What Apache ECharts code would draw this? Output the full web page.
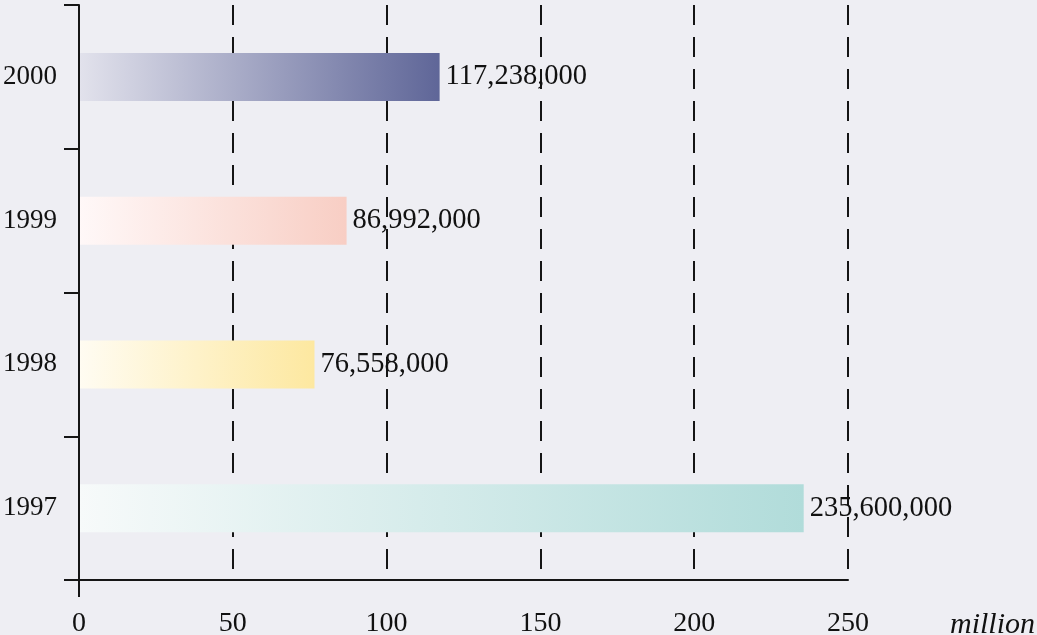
<!DOCTYPE html>
<html>
<head>
<meta charset="utf-8">
<script src="https://cdn.jsdelivr.net/npm/echarts@6/dist/echarts.min.js"></script>
<style>
  html, body { margin: 0; padding: 0; background: #eeeef3; }
  #chart { width: 1037px; height: 635px; }
</style>
</head>
<body>
<div id="chart"></div>
<script>
const years = ['1997', '1998', '1999', '2000']
const values = [235600000, 76558000, 86992000, 117238000]
const xTicks = [0, 50, 100, 150, 200, 250]
const barColors = [
  ['#f7fafa', '#b1dcda'],
  ['#fffcf2', '#fde8a0'],
  ['#fff8f8', '#f8cec4'],
  ['#e2e2ec', '#5f6698']
]

const font = '"Liberation Serif", "DejaVu Serif", serif'
const axisColor = '#151515'
const chart = echarts.init(document.getElementById('chart'))

const option = {
  backgroundColor: '#eeeef3',
  animation: false,
  grid: { left: 79, right: 189, top: 5, bottom: 55, containLabel: false, outerBoundsMode: 'none' },
  xAxis: [{
    type: 'value',
    min: xTicks[0],
    max: xTicks[xTicks.length - 1],
    interval: 50,
    name: 'million',
    nameLocation: 'end',
    nameGap: 102,
    nameTextStyle: {
      fontFamily: font, fontStyle: 'italic', fontSize: 30, color: '#111',
      verticalAlign: 'top', padding: [30, 0, 0, 0]
    },
    axisLine: { show: true, lineStyle: { color: axisColor, width: 2 } },
    axisTick: { show: false },
    axisLabel: { fontFamily: font, fontSize: 28, color: '#111', margin: 30 },
    splitLine: { show: true, lineStyle: { color: axisColor, width: 2, type: [20, 12] } }
  }, {
    // only the short tick below zero
    type: 'value',
    position: 'bottom',
    min: xTicks[0],
    max: xTicks[xTicks.length - 1],
    interval: 50,
    axisLine: { show: false },
    axisTick: { show: true, customValues: [0], length: 17, lineStyle: { color: axisColor, width: 2 } },
    axisLabel: { show: false },
    splitLine: { show: false }
  }],
  yAxis: {
    type: 'category',
    data: years,
    z: 5,
    axisLine: { show: true, onZero: false, lineStyle: { color: axisColor, width: 2 } },
    axisTick: { show: true, length: 15, lineStyle: { color: axisColor, width: 2 } },
    axisLabel: { fontFamily: font, fontSize: 27, color: '#111', margin: 22 }
  },
  series: [{
    type: 'bar',
    barWidth: 48,
    data: values.map((v, i) => ({
      value: v / 1e6,
      itemStyle: {
        color: new echarts.graphic.LinearGradient(0, 0, 1, 0, [
          { offset: 0, color: barColors[i][0] },
          { offset: 1, color: barColors[i][1] }
        ])
      }
    })),
    label: {
      show: true,
      position: 'right',
      distance: 6,
      fontFamily: font,
      fontSize: 28.5,
      color: '#111',
      formatter: p => values[p.dataIndex].toLocaleString('en-US')
    }
  }]
}

chart.setOption(option)
</script>
</body>
</html>
